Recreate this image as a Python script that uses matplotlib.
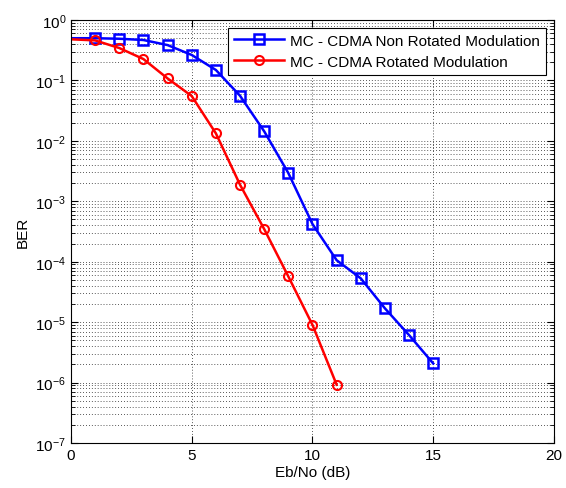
import numpy as np
import matplotlib
matplotlib.use('Agg')
import matplotlib.pyplot as plt
from matplotlib.ticker import LogLocator, NullFormatter

plt.rcParams['font.family'] = ['Liberation Sans', 'DejaVu Sans']
plt.rcParams['mathtext.default'] = 'regular'

ebno_nr = [0, 1, 2, 3, 4, 5, 6, 7, 8, 9, 10, 11, 12, 13, 14, 15]
ber_nr = [0.50, 0.50, 0.49, 0.467, 0.385, 0.264, 0.149, 0.0558, 0.0144, 0.00293,
          4.2e-4, 1.06e-4, 5.3e-5, 1.69e-5, 6.1e-6, 2.07e-6]

ebno_r = [0, 1, 2, 3, 4, 5, 6, 7, 8, 9, 10, 11]
ber_r = [0.48, 0.46, 0.344, 0.226, 0.108, 0.0552, 0.0133, 0.00188, 3.47e-4,
         5.7e-5, 9.0e-6, 9.2e-7]

fig = plt.figure(figsize=(5.66, 4.89), dpi=100)
ax = fig.add_axes([0.1254, 0.092, 0.8534, 0.865])

# no marker drawn at 0 dB in the original
ax.semilogy(ebno_nr, ber_nr, '-s', color='#0000ff', lw=1.8, ms=7.5,
            mfc='none', mew=1.8, markevery=slice(1, None),
            label='MC - CDMA Non Rotated Modulation')
ax.semilogy(ebno_r, ber_r, '-o', color='#ff0000', lw=1.8, ms=6.5,
            mfc='none', mew=1.5, markevery=slice(1, None),
            label='MC - CDMA Rotated Modulation')

ax.set_xlim(0, 20)
ax.set_ylim(1e-7, 1)
ax.set_xticks([0, 5, 10, 15, 20])
ax.yaxis.set_major_locator(LogLocator(base=10, numticks=20))
ax.yaxis.set_minor_locator(LogLocator(base=10, subs=np.arange(2, 10), numticks=20))
ax.yaxis.set_minor_formatter(NullFormatter())

grid_style = dict(color='#222222', linestyle=(0, (1, 2.5)), linewidth=0.6)
ax.grid(True, which='major', **grid_style)
ax.grid(True, which='minor', axis='y', **grid_style)

ax.tick_params(which='both', direction='in', top=True, right=True, labelsize=11)
ax.tick_params(which='major', length=5)
ax.tick_params(which='minor', length=3)
for s in ax.spines.values():
    s.set_linewidth(0.8)

ax.set_xlabel('Eb/No (dB)', fontsize=11, labelpad=2)
ax.set_ylabel('BER', fontsize=11)

leg = ax.legend(loc='upper right', fontsize=11, fancybox=False, framealpha=1,
                edgecolor='k', borderaxespad=0.5, handlelength=3.3,
                handletextpad=0.4, labelspacing=0.45)
leg.get_frame().set_linewidth(0.8)

fig.savefig('out.png', dpi=100)
